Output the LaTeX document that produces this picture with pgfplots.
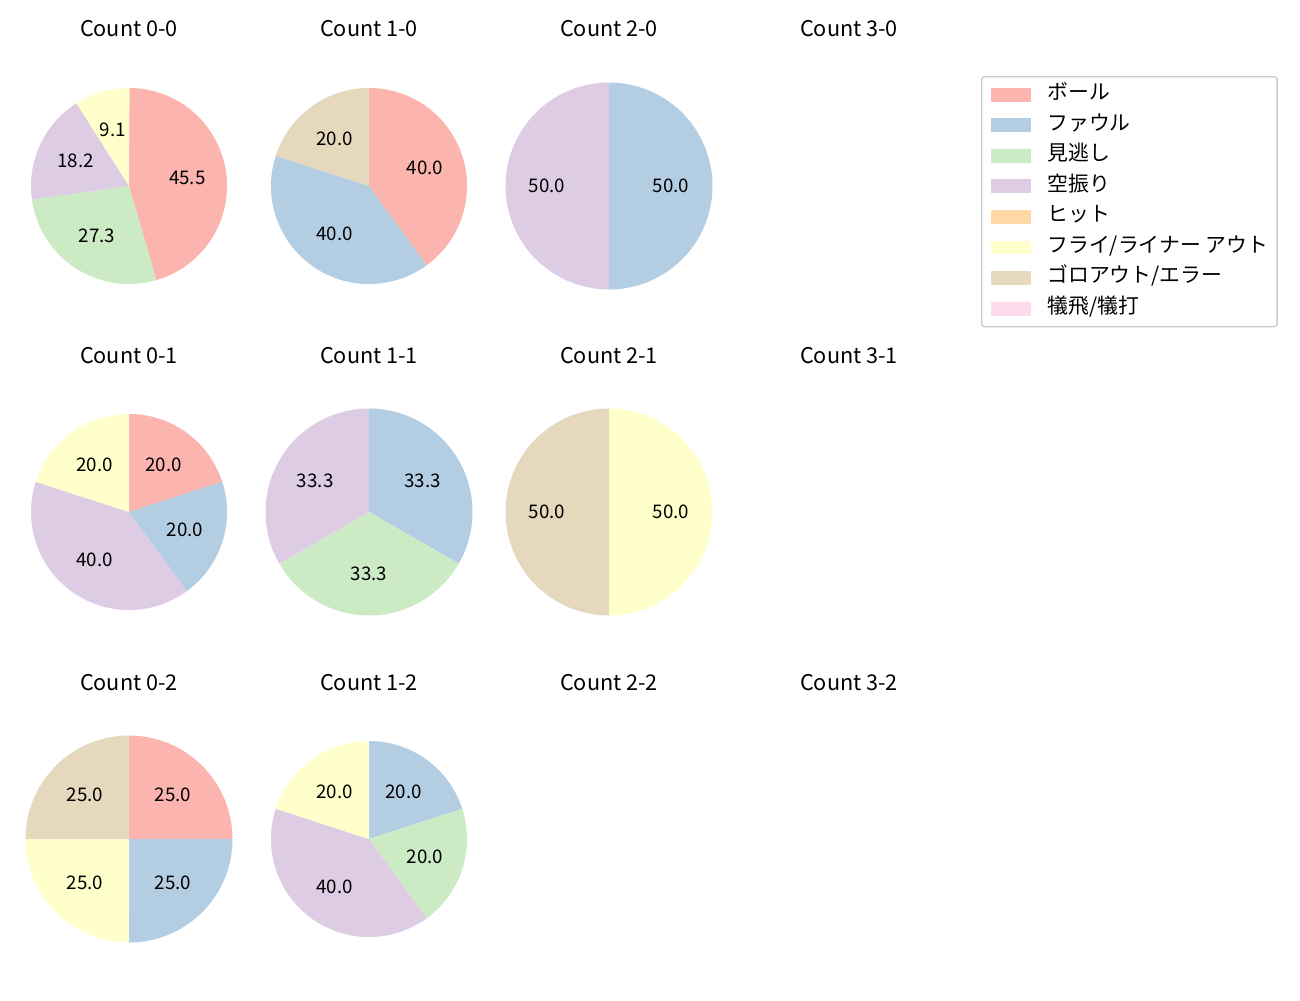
\documentclass[border=0pt]{standalone}
\usepackage{fontspec}
\setmainfont{Noto Sans CJK JP}
\usepackage{pgfplots}
\pgfplotsset{compat=1.18}
\definecolor{c1}{HTML}{FBB4AE}
\definecolor{c2}{HTML}{B3CDE3}
\definecolor{c3}{HTML}{CCEBC5}
\definecolor{c4}{HTML}{DECBE4}
\definecolor{c5}{HTML}{FED9A6}
\definecolor{c6}{HTML}{FFFFCC}
\definecolor{c7}{HTML}{E5D8BD}
\definecolor{c8}{HTML}{FDDAEC}
\newcommand\tit{\fontsize{15.6}{18}\selectfont}
\newcommand\lab{\fontsize{13.5}{16}\selectfont}
\newcommand\leg{\fontsize{15}{17}\selectfont}
% #1 cumulative percent before the slice, #2 slice value, #3 colour, #4 radius
\newcommand{\slice}[4]{%
  \pgfmathsetmacro\aA{90-3.6*(#1+#2)}%
  \pgfmathsetmacro\aB{90-3.6*(#1)}%
  \pgfmathsetmacro\lx{0.6*#4*cos(90-3.6*(#1+#2/2))}%
  \pgfmathsetmacro\ly{0.6*#4*sin(90-3.6*(#1+#2/2))}%
  \edef\doslice{\noexpand\addplot[fill=#3, draw=none, domain=\aA:\aB, samples=90] ({#4*cos(x)},{#4*sin(x)}) -- (axis cs:0,0) -- cycle;
  \noexpand\node[font=\noexpand\lab] at (axis cs:\lx,\ly) {#2};}%
  \doslice
}
\pgfplotsset{pieax/.style={width=178.85pt, height=178.85pt, scale only axis, hide axis,
  xmin=-1.2, xmax=1.2, ymin=-1.2, ymax=1.2, anchor=center, clip=false}}
\begin{document}
\begin{tikzpicture}
\useasboundingbox (0pt,0pt) rectangle (936pt,-720pt);
% titles
\foreach \r in {0,1,2}{
  \foreach \c in {0,1,2,3}{
    \node[font=\tit, anchor=base] at ({(129+240*\c)*0.72pt},{-(36+327*\r)*0.72pt}) {Count \c-\r};
  }
}
% Count 0-0
\begin{axis}[pieax, at={(129*0.72pt,-186*0.72pt)}]
\slice{0}{45.5}{c1}{0.947}
\slice{45.5}{27.3}{c3}{0.947}
\slice{72.8}{18.2}{c4}{0.947}
\slice{91.0}{9.1}{c6}{0.947}
\end{axis}
% Count 1-0
\begin{axis}[pieax, at={(369*0.72pt,-186*0.72pt)}]
\slice{0}{40.0}{c1}{0.947}
\slice{40}{40.0}{c2}{0.947}
\slice{80}{20.0}{c7}{0.947}
\end{axis}
% Count 2-0
\begin{axis}[pieax, at={(609*0.72pt,-186*0.72pt)}]
\slice{0}{50.0}{c2}{1}
\slice{50}{50.0}{c4}{1}
\end{axis}
% Count 0-1
\begin{axis}[pieax, at={(129*0.72pt,-512*0.72pt)}]
\slice{0}{20.0}{c1}{0.947}
\slice{20}{20.0}{c2}{0.947}
\slice{40}{40.0}{c4}{0.947}
\slice{80}{20.0}{c6}{0.947}
\end{axis}
% Count 1-1
\begin{axis}[pieax, at={(369*0.72pt,-512*0.72pt)}]
\slice{0}{33.3}{c2}{1}
\slice{33.333}{33.3}{c3}{1}
\slice{66.667}{33.3}{c4}{1}
\end{axis}
% Count 2-1
\begin{axis}[pieax, at={(609*0.72pt,-512*0.72pt)}]
\slice{0}{50.0}{c6}{1}
\slice{50}{50.0}{c7}{1}
\end{axis}
% Count 0-2
\begin{axis}[pieax, at={(129*0.72pt,-839*0.72pt)}]
\slice{0}{25.0}{c1}{1}
\slice{25}{25.0}{c2}{1}
\slice{50}{25.0}{c6}{1}
\slice{75}{25.0}{c7}{1}
\end{axis}
% Count 1-2
\begin{axis}[pieax, at={(369*0.72pt,-839*0.72pt)}]
\slice{0}{20.0}{c2}{0.947}
\slice{20}{20.0}{c3}{0.947}
\slice{40}{40.0}{c4}{0.947}
\slice{80}{20.0}{c6}{0.947}
\end{axis}
% legend
\begin{axis}[at={(981*0.72pt,-76*0.72pt)}, anchor=north west, width=10pt, height=10pt, scale only axis, hide axis,
  xmin=0, xmax=1, ymin=0, ymax=1,
  legend style={at={(0,1)}, anchor=north west, draw=black!20, line width=1pt, rounded corners=2pt,
    font=\leg, legend cell align=left, row sep=8pt, inner xsep=6.5pt, inner ysep=6pt,
    nodes={inner sep=0pt, text height=10.5pt, text depth=3.5pt}},
  /tikz/every odd column/.style={column sep=12pt},
  legend image code/.code={\fill[#1, sharp corners] (0pt,-5pt) rectangle (28.8pt,5pt);}]
\addlegendimage{fill=c1, draw=none}\addlegendentry{ボール}
\addlegendimage{fill=c2, draw=none}\addlegendentry{ファウル}
\addlegendimage{fill=c3, draw=none}\addlegendentry{見逃し}
\addlegendimage{fill=c4, draw=none}\addlegendentry{空振り}
\addlegendimage{fill=c5, draw=none}\addlegendentry{ヒット}
\addlegendimage{fill=c6, draw=none}\addlegendentry{フライ/ライナー アウト}
\addlegendimage{fill=c7, draw=none}\addlegendentry{ゴロアウト/エラー}
\addlegendimage{fill=c8, draw=none}\addlegendentry{犠飛/犠打}
\end{axis}
\end{tikzpicture}
\end{document}
